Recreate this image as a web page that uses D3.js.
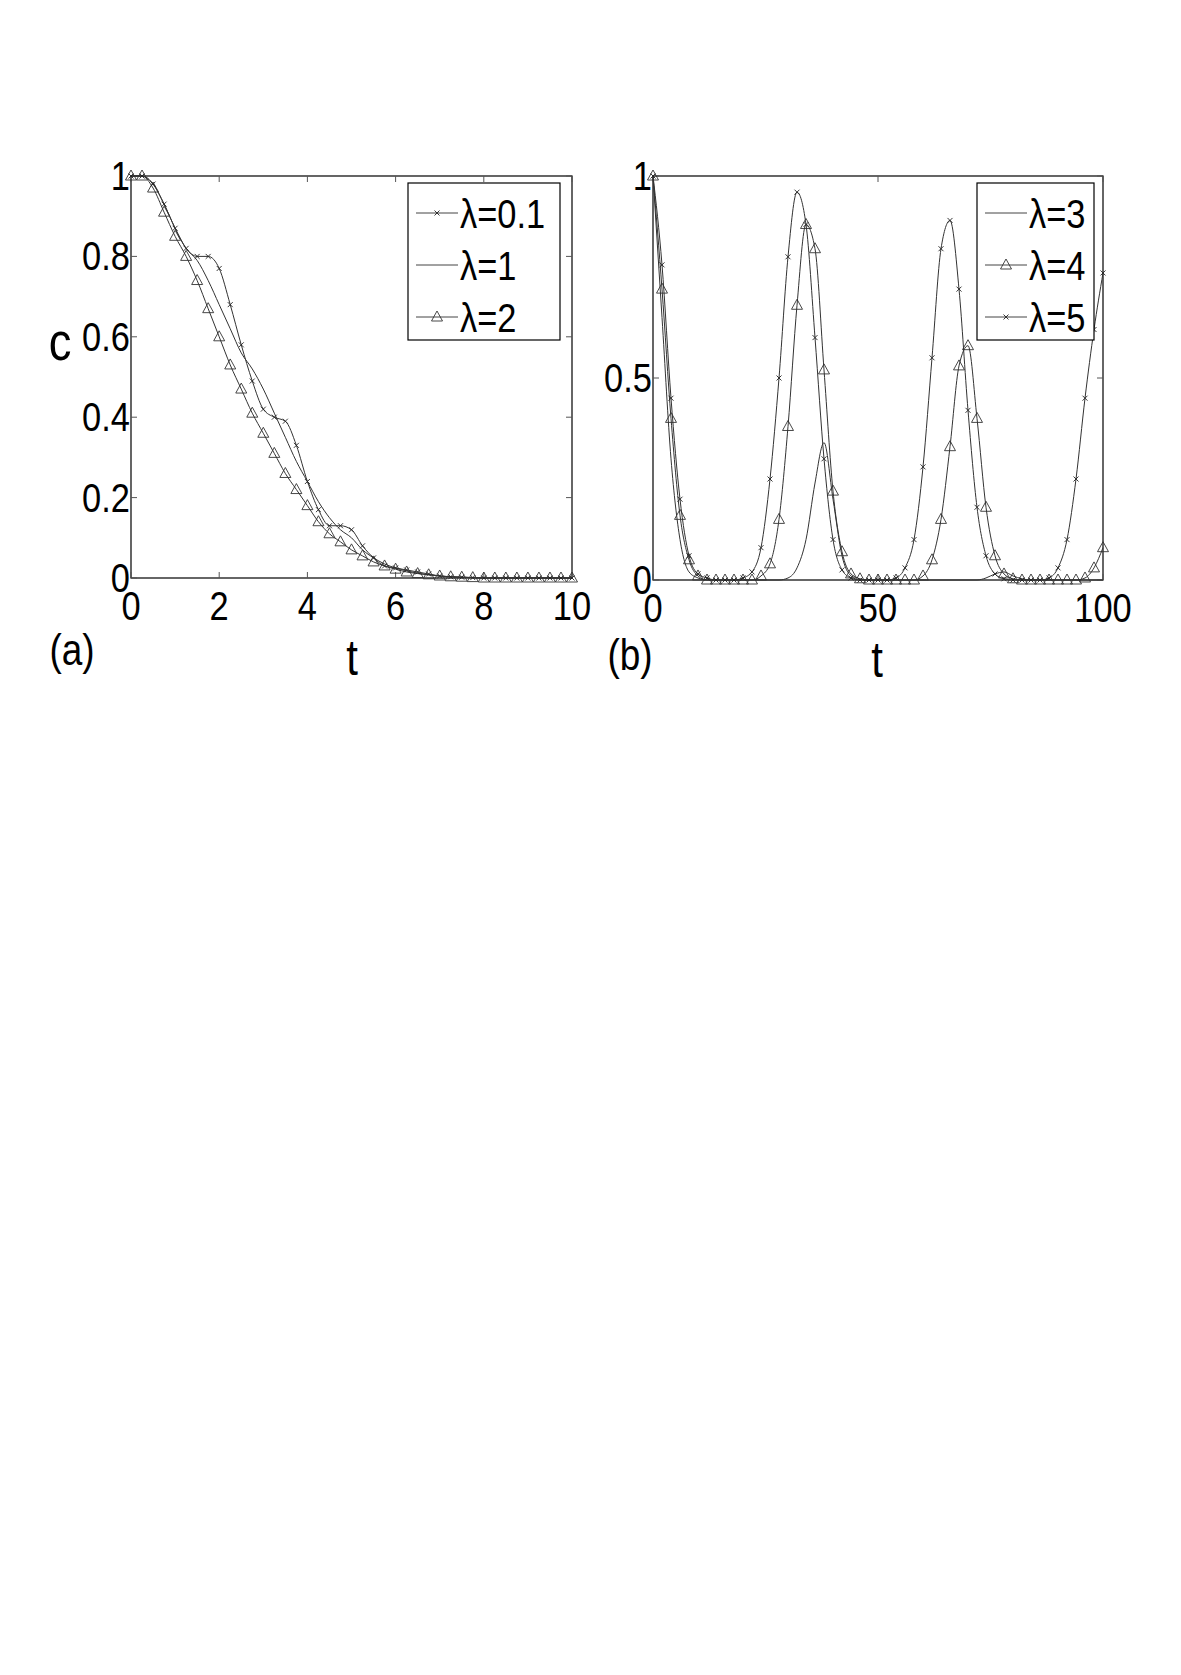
<!DOCTYPE html>
<html><head><meta charset="utf-8">
<script src="https://cdn.jsdelivr.net/npm/d3@7"></script>
<style>body{margin:0;background:#fff}text{font-family:"Liberation Sans",Arial,sans-serif;fill:#000}</style>
</head><body>
<svg id="fig" width="1181" height="1675"></svg>
<script>
// panel (a) data, t step 0.25
const tA = d3.range(0, 10.001, 0.25);
const cA01 = [1,1,0.98,0.93,0.87,0.82,0.80,0.80,0.77,0.68,0.58,0.49,0.42,0.40,0.39,0.33,0.24,0.17,0.13,0.13,0.12,0.08,0.05,0.03,0.025,0.02,0.015,0.01,0.005,0.003,0.002,0.001,0,0,0,0,0,0,0,0,0];
const cA1  = [1,1,0.98,0.93,0.87,0.82,0.79,0.74,0.68,0.62,0.56,0.52,0.47,0.41,0.35,0.29,0.24,0.19,0.15,0.12,0.10,0.07,0.05,0.035,0.025,0.018,0.012,0.008,0.005,0.003,0.002,0.001,0,0,0,0,0,0,0,0,0];
const cA2  = [1,1,0.97,0.91,0.85,0.80,0.74,0.67,0.60,0.53,0.47,0.41,0.36,0.31,0.26,0.22,0.18,0.14,0.11,0.09,0.07,0.055,0.04,0.03,0.022,0.015,0.011,0.008,0.005,0.003,0.002,0.001,0,0,0,0,0,0,0,0,0];

// panel (b) data, t step 2
const tB = d3.range(0, 100.001, 2);
const cB3 = [1.0,0.65,0.3,0.1,0.02,0.005,0,0,0,0,0,0,0,0,0,0.005,0.03,0.1,0.24,0.34,0.2,0.06,0.01,0,0,0,0,0,0,0,0,0,0,0,0,0,0,0.005,0.015,0.02,0.01,0.003,0,0,0,0,0,0,0,0,0];
const cB4 = [1.0,0.72,0.4,0.16,0.05,0.01,0,0,0,0,0,0,0.01,0.04,0.15,0.38,0.68,0.88,0.82,0.52,0.22,0.07,0.015,0.003,0,0,0,0,0,0,0.01,0.05,0.15,0.33,0.53,0.58,0.4,0.18,0.06,0.015,0.003,0,0,0,0,0,0,0,0.005,0.03,0.08];
const cB5 = [1.0,0.78,0.45,0.2,0.06,0.015,0.005,0,0,0,0.005,0.02,0.08,0.25,0.5,0.8,0.96,0.88,0.6,0.3,0.1,0.025,0.005,0,0,0,0,0.005,0.03,0.1,0.28,0.55,0.82,0.89,0.72,0.42,0.18,0.06,0.015,0.003,0,0,0,0,0.005,0.03,0.1,0.25,0.45,0.62,0.76];

const ticksA_x = [0,2,4,6,8,10], ticksA_y = [0,0.2,0.4,0.6,0.8,1];
const ticksB_x = [0,50,100], ticksB_y = [0,0.5,1];

const svg = d3.select("#fig");
const FS = 41;

function label(g, x, y, str, size, anchor) {
  g.append("text").attr("transform", `translate(${x},${y}) scale(0.84,1)`)
    .attr("text-anchor", anchor || "middle").attr("font-size", size).text(str);
}

function marker(g, type, x, y) {
  if (type == "x") {
    g.append("path").attr("d", `M${x-2.5},${y-2.5}L${x+2.5},${y+2.5}M${x-2.5},${y+2.5}L${x+2.5},${y-2.5}`)
      .style("stroke", "#222").style("stroke-width", 0.9);
  } else if (type == "tri") {
    g.append("path").attr("d", `M${x},${y-6}L${x+5.5},${y+4}L${x-5.5},${y+4}Z`)
      .style("fill", "none").style("stroke", "#333").style("stroke-width", 0.9);
  }
}

function panel(box, xdom, ydom, xt, yt, series, legendBox, legendItems) {
  const x = d3.scaleLinear().domain(xdom).range([box.l, box.r]);
  const y = d3.scaleLinear().domain(ydom).range([box.b, box.t]);
  const g = svg.append("g");
  g.append("rect").attr("x", box.l).attr("y", box.t).attr("width", box.r - box.l).attr("height", box.b - box.t)
    .style("fill", "none").style("stroke", "#000").style("stroke-width", 1.2);
  // inward ticks on all sides
  xt.forEach(v => {
    g.append("line").attr("x1", x(v)).attr("x2", x(v)).attr("y1", box.b).attr("y2", box.b - 6).style("stroke", "#555");
    g.append("line").attr("x1", x(v)).attr("x2", x(v)).attr("y1", box.t).attr("y2", box.t + 6).style("stroke", "#555");
    label(g, x(v), box.b + 42, String(v), FS);
  });
  yt.forEach(v => {
    g.append("line").attr("y1", y(v)).attr("y2", y(v)).attr("x1", box.l).attr("x2", box.l + 6).style("stroke", "#555");
    g.append("line").attr("y1", y(v)).attr("y2", y(v)).attr("x1", box.r).attr("x2", box.r - 6).style("stroke", "#555");
    label(g, box.l - 1, y(v) + 14, String(v), FS, "end");
  });
  const line = d3.line().x(d => x(d[0])).y(d => y(d[1])).curve(d3.curveMonotoneX);
  series.forEach(s => {
    const pts = s.t.map((t, i) => [t, s.c[i]]);
    g.append("path").attr("d", line(pts)).style("fill", "none").style("stroke", "#333").style("stroke-width", 1);
    if (s.m) pts.forEach(p => marker(g, s.m, x(p[0]), y(p[1])));
  });
  // legend
  g.append("rect").attr("x", legendBox.x).attr("y", legendBox.y).attr("width", legendBox.w).attr("height", legendBox.h)
    .style("fill", "#fff").style("stroke", "#000").style("stroke-width", 1.2);
  legendItems.forEach((it, i) => {
    const ly = legendBox.y + 30 + i * 52;
    g.append("line").attr("x1", legendBox.x + 8).attr("x2", legendBox.x + 50).attr("y1", ly).attr("y2", ly)
      .style("stroke", "#444").style("stroke-width", 1);
    if (it.m) marker(g, it.m, legendBox.x + 29, ly);
    label(g, legendBox.x + 52, ly + 15, it.name, FS, "start");
  });
  return g;
}

panel({l: 131, r: 572, t: 176, b: 578}, [0, 10], [0, 1], ticksA_x, ticksA_y,
  [{t: tA, c: cA1}, {t: tA, c: cA2, m: "tri"}, {t: tA, c: cA01, m: "x"}],
  {x: 408, y: 183, w: 152, h: 157},
  [{name: "λ=0.1", m: "x"}, {name: "λ=1"}, {name: "λ=2", m: "tri"}]);

panel({l: 653, r: 1103, t: 176, b: 580}, [0, 100], [0, 1], ticksB_x, ticksB_y,
  [{t: tB, c: cB3}, {t: tB, c: cB4, m: "tri"}, {t: tB, c: cB5, m: "x"}],
  {x: 977, y: 183, w: 117, h: 157},
  [{name: "λ=3"}, {name: "λ=4", m: "tri"}, {name: "λ=5", m: "x"}]);

label(svg, 60, 360, "c", 54);
label(svg, 352, 675, "t", 50);
label(svg, 877, 677, "t", 50);
label(svg, 72, 665, "(a)", 44);
label(svg, 630, 670, "(b)", 44);
</script>
</body></html>
